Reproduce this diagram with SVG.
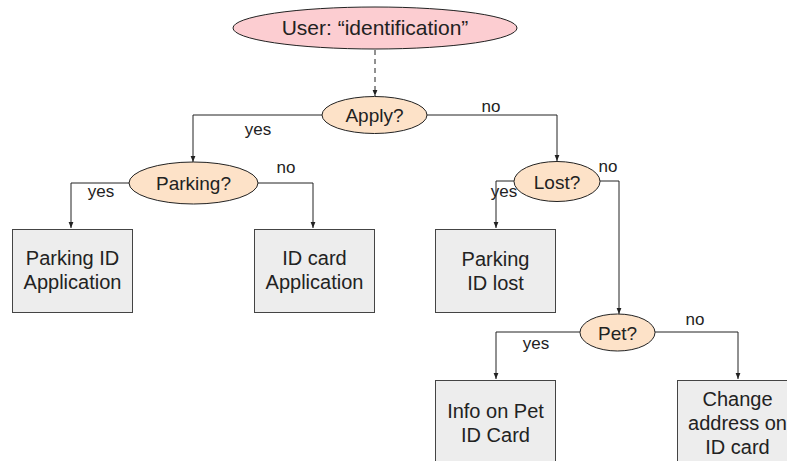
<svg xmlns="http://www.w3.org/2000/svg" width="787" height="461" viewBox="0 0 787 461">
  <defs>
    <marker id="arr" viewBox="0 0 8 8" refX="8" refY="4" markerWidth="6" markerHeight="6" markerUnits="userSpaceOnUse" orient="auto">
      <path d="M0,0.8 L8,4 L0,7.2 Z" fill="#222"/>
    </marker>
  </defs>
  <style>
    .start { fill: #fccdd1; stroke: #222; stroke-width: 1; }
    .dec { fill: #fde2c8; stroke: #222; stroke-width: 1; }
    .box { fill: #ededed; stroke: #444; stroke-width: 1; }
    .t { font-family: "Liberation Sans", Arial, sans-serif; font-size: 19px; fill: #222; text-anchor: middle; }
    .bt { font-size: 20px; }
    .lbl { font-family: "Liberation Sans", Arial, sans-serif; font-size: 17px; fill: #222; text-anchor: middle; }
    .edge { fill: none; stroke: #222; stroke-width: 1; marker-end: url(#arr); }
    .dash { stroke-dasharray: 5 4; }
  </style>

  <g id="connectors">
    <path class="edge dash" d="M375,50 L375,96"/>
    <path class="edge" d="M322,115 L193,115 L193,162"/>
    <path class="edge" d="M427,115 L557,115 L557,161"/>
    <path class="edge" d="M129,183 L71,183 L71,228"/>
    <path class="edge" d="M258,183 L313,183 L313,228"/>
    <path class="edge" d="M514,181 L496,181 L496,228"/>
    <path class="edge" d="M600,181 L619,181 L619,314"/>
    <path class="edge" d="M580,332 L496,332 L496,379"/>
    <path class="edge" d="M655,332 L738,332 L738,379"/>
    <text class="lbl" x="258" y="135">yes</text>
    <text class="lbl" x="491" y="112">no</text>
    <text class="lbl" x="101" y="197">yes</text>
    <text class="lbl" x="286" y="173">no</text>
    <text class="lbl" x="504" y="197">yes</text>
    <text class="lbl" x="608" y="172">no</text>
    <text class="lbl" x="536" y="349">yes</text>
    <text class="lbl" x="695" y="325">no</text>
  </g>

  <g id="user">
    <ellipse class="start" cx="375" cy="28" rx="142" ry="21"/>
    <text class="t" x="375" y="35" style="font-size:21px">User: “identification”</text>
  </g>
  <g id="apply">
    <ellipse class="dec" cx="374.5" cy="115" rx="52.5" ry="18.5"/>
    <text class="t" x="374.5" y="122">Apply?</text>
  </g>
  <g id="parking">
    <ellipse class="dec" cx="193.5" cy="183" rx="64.5" ry="21"/>
    <text class="t" x="193.5" y="190">Parking?</text>
  </g>
  <g id="lost">
    <ellipse class="dec" cx="557" cy="181.5" rx="43" ry="20"/>
    <text class="t" x="557" y="188.5">Lost?</text>
  </g>
  <g id="pet">
    <ellipse class="dec" cx="617.5" cy="332.5" rx="37.5" ry="18.5"/>
    <text class="t" x="617.5" y="339.5">Pet?</text>
  </g>
  <g id="parking-app">
    <rect class="box" x="12.5" y="229.5" width="120" height="83"/>
    <text class="t bt" x="72.5" y="265">Parking ID</text>
    <text class="t bt" x="72.5" y="289">Application</text>
  </g>
  <g id="idcard-app">
    <rect class="box" x="254.5" y="229.5" width="120" height="83"/>
    <text class="t bt" x="314.5" y="265">ID card</text>
    <text class="t bt" x="314.5" y="289">Application</text>
  </g>
  <g id="parking-lost">
    <rect class="box" x="435.5" y="229.5" width="120" height="83"/>
    <text class="t bt" x="495.5" y="266">Parking</text>
    <text class="t bt" x="495.5" y="290">ID lost</text>
  </g>
  <g id="pet-info">
    <rect class="box" x="435.5" y="380.5" width="120" height="90"/>
    <text class="t bt" x="495.5" y="418">Info on Pet</text>
    <text class="t bt" x="495.5" y="442">ID Card</text>
  </g>
  <g id="change-address">
    <rect class="box" x="677.5" y="380.5" width="120" height="90"/>
    <text class="t bt" x="737.5" y="406">Change</text>
    <text class="t bt" x="737.5" y="430">address on</text>
    <text class="t bt" x="737.5" y="454">ID card</text>
  </g>
</svg>
